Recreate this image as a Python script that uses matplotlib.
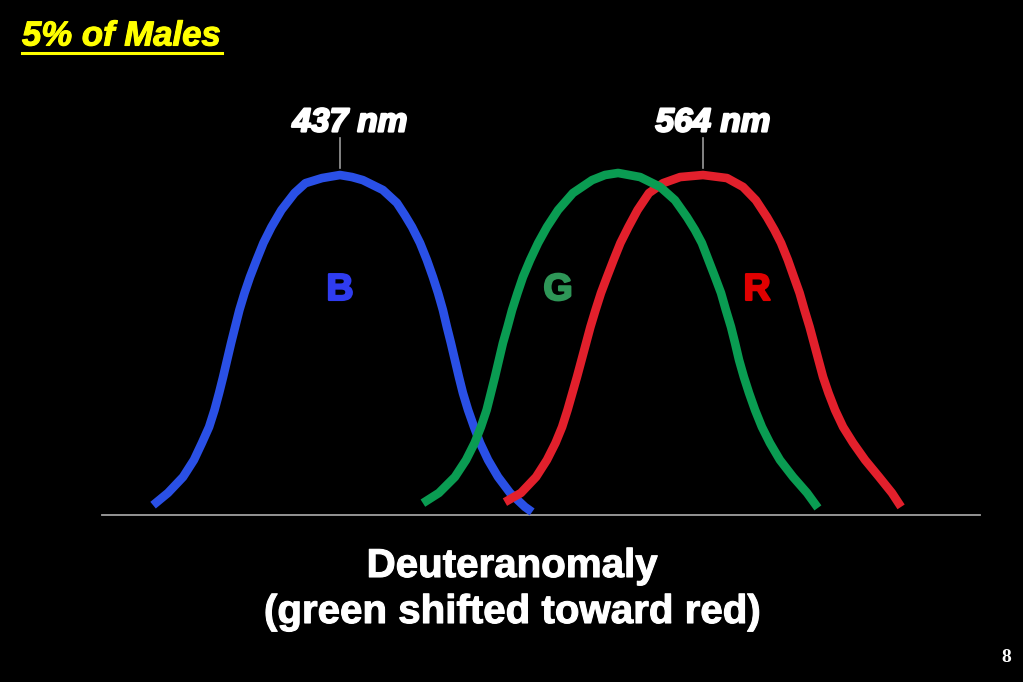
import matplotlib
matplotlib.use("Agg")
import matplotlib.pyplot as plt
import matplotlib.patheffects as pe

# Cone sensitivity curves (wavelength nm, relative sensitivity)
blue_nm = [371.6, 376.8, 382.1, 385.9, 388.7, 391.2, 393.1, 394.7, 396.1, 397.5,
           398.9, 400.3, 401.8, 403.6, 405.5, 407.8, 410.2, 413.0, 416.5, 421.1,
           424.9, 430.7, 437.0, 441.2, 445.0, 452.0, 456.9, 459.7, 462.2, 465.0,
           467.4, 469.5, 471.3, 473.0, 474.4, 475.8, 477.2, 478.6, 480.0, 481.8,
           483.9, 486.0, 488.8, 492.3, 496.5, 501.7, 504.2]
blue_s = [0.029, 0.065, 0.112, 0.162, 0.212, 0.259, 0.309, 0.359, 0.406, 0.456,
          0.506, 0.553, 0.603, 0.653, 0.700, 0.750, 0.800, 0.847, 0.897, 0.947,
          0.976, 0.991, 1.000, 0.994, 0.985, 0.956, 0.918, 0.882, 0.847, 0.800,
          0.750, 0.700, 0.653, 0.603, 0.553, 0.506, 0.456, 0.406, 0.359, 0.309,
          0.259, 0.212, 0.162, 0.112, 0.065, 0.024, 0.009]

green_nm = [466.0, 471.6, 477.2, 481.1, 484.1, 486.3, 488.3, 489.8, 491.2, 492.6,
            494.0, 495.6, 497.2, 499.1, 501.0, 503.5, 506.3, 509.4, 513.3, 518.5,
            525.2, 529.7, 534.3, 542.0, 549.0, 554.2, 558.4, 561.2, 563.6, 565.9,
            568.2, 570.3, 572.0, 573.8, 575.2, 576.6, 578.3, 580.1, 582.2, 584.6,
            587.4, 590.9, 595.5, 600.4, 604.2]
green_s = [0.035, 0.065, 0.112, 0.162, 0.212, 0.259, 0.309, 0.359, 0.406, 0.456,
           0.506, 0.553, 0.603, 0.653, 0.700, 0.750, 0.800, 0.847, 0.897, 0.947,
           0.985, 1.000, 1.006, 0.994, 0.965, 0.926, 0.876, 0.838, 0.800, 0.750,
           0.700, 0.653, 0.603, 0.553, 0.506, 0.456, 0.406, 0.359, 0.309, 0.259,
           0.212, 0.162, 0.112, 0.065, 0.021]

red_nm = [494.7, 500.3, 505.6, 509.4, 512.4, 514.7, 516.6, 518.3, 519.9, 521.5,
          523.1, 524.6, 526.4, 528.3, 530.4, 532.7, 535.1, 537.9, 541.1, 545.1,
          550.0, 556.0, 564.0, 572.4, 578.0, 582.5, 586.4, 589.0, 591.3, 593.7,
          595.8, 597.8, 599.5, 601.3, 602.8, 604.4, 606.0, 607.9, 610.2, 613.0,
          616.5, 620.7, 625.6, 630.1, 633.3]
red_s = [0.038, 0.065, 0.112, 0.162, 0.212, 0.259, 0.309, 0.359, 0.406, 0.456,
         0.506, 0.553, 0.603, 0.653, 0.700, 0.750, 0.800, 0.847, 0.897, 0.947,
         0.976, 0.994, 1.000, 0.991, 0.965, 0.926, 0.876, 0.838, 0.800, 0.750,
         0.700, 0.653, 0.603, 0.553, 0.506, 0.456, 0.406, 0.359, 0.309, 0.259,
         0.212, 0.162, 0.112, 0.065, 0.024]

peak_labels = ["437 nm", "564 nm"]
peak_nm = [437, 564]
cone_letters = ["B", "G", "R"]
letter_nm = [437.0, 513.3, 582.9]

title = "5% of Males"
caption = ["Deuteranomaly", "(green shifted toward red)"]
page = "8"

fig = plt.figure(figsize=(10.23, 6.82), dpi=100, facecolor="black")
ax = fig.add_axes([0, 0, 1, 1])
ax.set_facecolor("black")
ax.set_xlim(318.05, 675.95)
ax.set_ylim(-0.491, 1.5147)
ax.axis("off")

# baseline
ax.plot([353.7, 660.9], [0, 0], color="#a0a0a0", lw=1.3, zorder=1)

lw = 6.2
kw = dict(lw=lw, solid_capstyle="butt", solid_joinstyle="round")
ax.plot(blue_nm, blue_s, color="#2a50e6", zorder=2, **kw)
ax.plot(red_nm, red_s, color="#e2202c", zorder=3, **kw)
ax.plot(green_nm, green_s, color="#0a9c52", zorder=4, **kw)

# peak markers
for lab, p in zip(peak_labels, peak_nm):
    ax.plot([p, p], [1.021, 1.109], color="#9a9a9a", lw=1.2, zorder=1)
    ax.text(p + 3.5, 1.153, lab, color="white", fontsize=24, fontweight="bold",
            fontstyle="italic", family="Liberation Sans", ha="center", va="center",
            path_effects=[pe.withStroke(linewidth=1.6, foreground="white")])

letter_colors = ["#2f3cf0", "#2e9657", "#e00000"]
for l, x, c in zip(cone_letters, letter_nm, letter_colors):
    ax.text(x, 0.662, l, color=c, fontsize=27, fontweight="bold",
            family="Liberation Sans", ha="center", va="center",
            path_effects=[pe.withStroke(linewidth=1.6, foreground=c)])

# title
fig.text(22 / 1023, 1 - 36 / 682, title, color="#ffff00", fontsize=25,
         fontweight="bold", fontstyle="italic", family="Liberation Sans",
         ha="left", va="center",
         path_effects=[pe.withStroke(linewidth=0.8, foreground="#ffff00")])
fig.add_artist(plt.Line2D([22 / 1023, 222 / 1023], [1 - 53 / 682, 1 - 53 / 682],
                          color="#ffff00", lw=2.2))

fig.text(512 / 1023, 1 - 566 / 682, caption[0], color="white", fontsize=29,
         fontweight="bold", family="Liberation Sans", ha="center", va="center",
         path_effects=[pe.withStroke(linewidth=0.8, foreground="white")])
fig.text(512 / 1023, 1 - 612 / 682, caption[1], color="white", fontsize=29,
         fontweight="bold", family="Liberation Sans", ha="center", va="center",
         path_effects=[pe.withStroke(linewidth=0.8, foreground="white")])

fig.text(1006 / 1023, 1 - 657 / 682, page, color="white", fontsize=14,
         fontweight="bold", family="Liberation Serif", ha="center", va="center")

fig.savefig("out.png", dpi=100, facecolor="black")
